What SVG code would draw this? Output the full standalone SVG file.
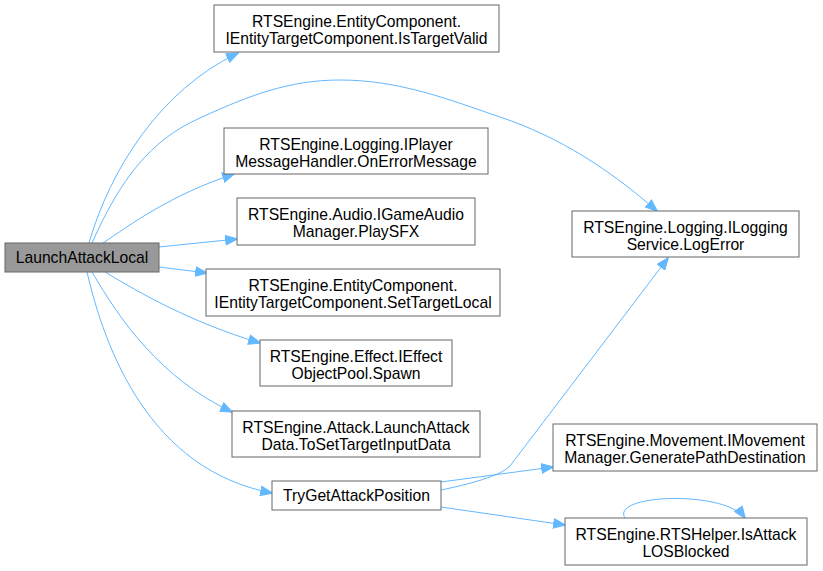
<svg xmlns="http://www.w3.org/2000/svg" width="823" height="571" viewBox="0 0 823 571">
<defs>
<style>
.n rect{fill:#fff;stroke:#666;stroke-width:1}
.n.cur rect{fill:#999}
.n text{font-family:"Liberation Sans",Arial,sans-serif;font-size:15.7px;text-anchor:middle;fill:#000}
.e path{fill:none;stroke:#63b8ff;stroke-width:1}
</style>
<marker id="ah" viewBox="0 0 12 10" refX="11" refY="5" markerWidth="13" markerHeight="11" markerUnits="userSpaceOnUse" orient="auto">
<path d="M0.5,0.7 L11.5,5 L0.5,9.3 Z" fill="#63b8ff" stroke="#63b8ff"/>
</marker>
</defs>
<rect width="823" height="571" fill="#fff"/>
<g id="edges" class="e">
<path marker-end="url(#ah)" d="M89,243 C110,170 160,90 238,53"/>
<path marker-end="url(#ah)" d="M92,243 C120,180 150,140 200,118 C250,95 290,80 340,80 C400,80 450,100 500,117 C560,137 610,170 657,211"/>
<path marker-end="url(#ah)" d="M103,243 C130,225 170,195 234,174"/>
<path marker-end="url(#ah)" d="M159,247 L237,239"/>
<path marker-end="url(#ah)" d="M159,267 L207,273"/>
<path marker-end="url(#ah)" d="M105,272 C140,293 190,322 260,343"/>
<path marker-end="url(#ah)" d="M92,272 C120,320 160,378 232,412"/>
<path marker-end="url(#ah)" d="M87,272 C105,350 150,470 272,493"/>
<path marker-end="url(#ah)" d="M441,490 C470,484 500,476 510,466 L668,258"/>
<path marker-end="url(#ah)" d="M441,482 L553,467"/>
<path marker-end="url(#ah)" d="M441,507 L565,525"/>
<path marker-end="url(#ah)" d="M625,518 C610,494 725,490 745,518"/>
</g>
<g id="n0" class="n cur"><rect x="5" y="243" width="154" height="29"/><text x="82" y="263">LaunchAttackLocal</text></g>
<g id="n1" class="n"><rect x="214" y="5" width="285" height="47"/><text x="356.5" y="26.5">RTSEngine.EntityComponent.</text><text x="356.5" y="44">IEntityTargetComponent.IsTargetValid</text></g>
<g id="n2" class="n"><rect x="224" y="128" width="264" height="46"/><text x="356" y="149.5">RTSEngine.Logging.IPlayer</text><text x="356" y="167">MessageHandler.OnErrorMessage</text></g>
<g id="n3" class="n"><rect x="237" y="198" width="238" height="47"/><text x="356" y="219.5">RTSEngine.Audio.IGameAudio</text><text x="356" y="237">Manager.PlaySFX</text></g>
<g id="n4" class="n"><rect x="206" y="269" width="294" height="47"/><text x="353" y="290.5">RTSEngine.EntityComponent.</text><text x="353" y="308">IEntityTargetComponent.SetTargetLocal</text></g>
<g id="n5" class="n"><rect x="260" y="340" width="192" height="46"/><text x="356" y="361.5">RTSEngine.Effect.IEffect</text><text x="356" y="379">ObjectPool.Spawn</text></g>
<g id="n6" class="n"><rect x="232" y="411" width="248" height="46"/><text x="356" y="432.5">RTSEngine.Attack.LaunchAttack</text><text x="356" y="450">Data.ToSetTargetInputData</text></g>
<g id="n7" class="n"><rect x="272" y="481" width="169" height="29"/><text x="356.5" y="501">TryGetAttackPosition</text></g>
<g id="n8" class="n"><rect x="572" y="211" width="227" height="46"/><text x="685.5" y="232.5">RTSEngine.Logging.ILogging</text><text x="685.5" y="250">Service.LogError</text></g>
<g id="n9" class="n"><rect x="553" y="424" width="264" height="47"/><text x="685" y="445.5">RTSEngine.Movement.IMovement</text><text x="685" y="463">Manager.GeneratePathDestination</text></g>
<g id="n10" class="n"><rect x="565" y="518" width="242" height="47"/><text x="686" y="539.5">RTSEngine.RTSHelper.IsAttack</text><text x="686" y="557">LOSBlocked</text></g>
</svg>
